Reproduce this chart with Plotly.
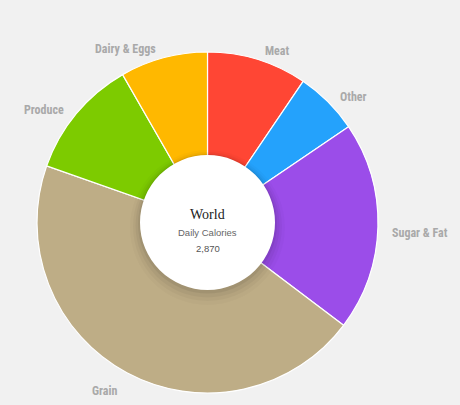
import math
import plotly.graph_objects as go

# ---- data ----
categories = ["Meat", "Other", "Sugar & Fat", "Grain", "Produce", "Dairy & Eggs"]
calories = [272, 173, 568, 1294, 325, 238]
colors = ["#FF4634", "#24A2FC", "#9B4DE9", "#BEAD86", "#7DCB00", "#FFB800"]
center_title = "World"
center_subtitle = "Daily Calories"
center_value = "2,870"

# ---- layout geometry (pixels) ----
W, H = 460, 405
cx, cy = 207.5, 222.5
R = 170.5
hole_r = 67.5


def px(x):
    return x / W


def py(y):
    return (H - y) / H


fig = go.Figure()
fig.add_trace(go.Pie(
    labels=categories,
    values=calories,
    sort=False,
    direction="clockwise",
    rotation=0,
    hole=0,
    textinfo="none",
    hoverinfo="label+value",
    marker=dict(colors=colors, line=dict(color="#FFFFFF", width=1.2)),
    domain=dict(x=[px(cx - R), px(cx + R)], y=[py(cy + R), py(cy - R)]),
    showlegend=False,
))

shapes = []
# soft shadow around the centre disc
for extra, dy, alpha in [(10, 5, 0.02), (7, 4, 0.03), (4.5, 3, 0.04), (2, 1.5, 0.06)]:
    r = hole_r + extra
    shapes.append(dict(type="circle", xref="paper", yref="paper", layer="above",
                       x0=px(cx - r), x1=px(cx + r), y0=py(cy + dy + r), y1=py(cy + dy - r),
                       fillcolor=f"rgba(0,0,0,{alpha})", line=dict(width=0)))
shapes.append(dict(type="circle", xref="paper", yref="paper", layer="above",
                   x0=px(cx - hole_r), x1=px(cx + hole_r),
                   y0=py(cy + hole_r), y1=py(cy - hole_r),
                   fillcolor="#FFFFFF", line=dict(width=0)))

annotations = []
total = sum(calories)
cum = 0.0
label_r = 180
for name, v in zip(categories, calories):
    mid = (cum + v / 2) / total * 2 * math.pi
    cum += v
    s, c = math.sin(mid), math.cos(mid)
    x = cx + label_r * s
    y = cy - label_r * c + (5.5 - 5 * c)
    if s > 0.05:
        xa, x = "left", x + 3
    elif s < -0.05:
        xa, x = "right", x - 3
    else:
        xa = "center"
    annotations.append(dict(
        text=f"<b>{name}</b>", x=px(x), y=py(y), xref="paper", yref="paper",
        xanchor=xa, yanchor="middle", showarrow=False,
        font=dict(family="Roboto Condensed, Roboto", size=12, color="#A9A9A9"),
    ))

annotations += [
    dict(text=center_title, x=px(cx), y=py(214.5), xref="paper", yref="paper",
         xanchor="center", yanchor="middle", showarrow=False,
         font=dict(family="Liberation Serif, DejaVu Serif", size=14, color="#222222")),
    dict(text=center_subtitle, x=px(cx), y=py(232.3), xref="paper", yref="paper",
         xanchor="center", yanchor="middle", showarrow=False,
         font=dict(family="Liberation Sans, Arial", size=9.5, color="#666666")),
    dict(text=center_value, x=px(cx), y=py(248.3), xref="paper", yref="paper",
         xanchor="center", yanchor="middle", showarrow=False,
         font=dict(family="Liberation Sans, Arial", size=9.5, color="#555555")),
]

fig.update_layout(
    width=W, height=H,
    margin=dict(l=0, r=0, t=0, b=0),
    paper_bgcolor="#F1F1F1",
    plot_bgcolor="#F1F1F1",
    shapes=shapes,
    annotations=annotations,
)

fig.write_html("out.html")
